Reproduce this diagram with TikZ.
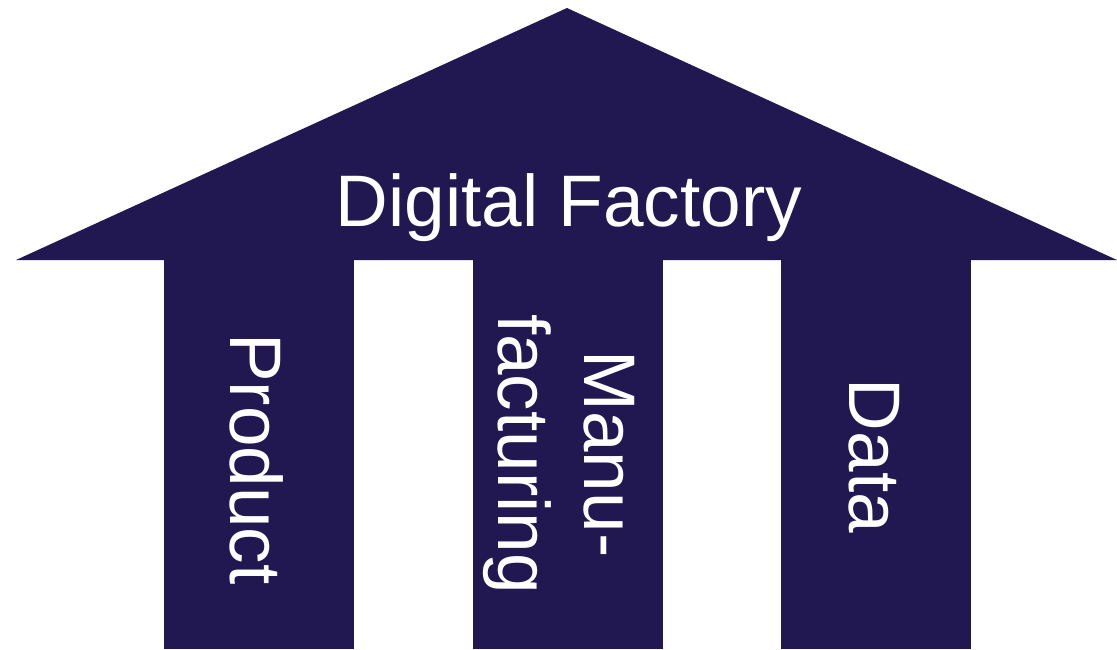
\documentclass[tikz,border=0pt]{standalone}
\usepackage{fontspec}
\setmainfont{Liberation Sans}
\usetikzlibrary{positioning}
\definecolor{factoryblue}{RGB}{33,24,82}

\tikzset{
  housepart/.style={fill=factoryblue},
  titletext/.style={text=white,font=\fontsize{73}{86}\selectfont,inner sep=0pt},
  pillartext/.style={text=white,font=\fontsize{73}{86}\selectfont,rotate=-90,align=center,inner sep=0pt}
}

\begin{document}
\begin{tikzpicture}[x=1pt,y=-1pt]
  \useasboundingbox (0,0) rectangle (1117,649);

  % roof
  \fill[housepart] (16,260) -- (567,8) -- (1117,260) -- cycle;

  % pillars
  \fill[housepart] (164,259) rectangle (354,649);
  \fill[housepart] (473,259) rectangle (663,649);
  \fill[housepart] (781,259) rectangle (971,649);

  \node[titletext,anchor=base] (title) at (569,226) {Digital Factory};

  \node[pillartext] (product) at (257,459) {Product};
  \node[pillartext] (manufacturing) at (559,454) {Manu-\\facturing};
  \node[pillartext] (data) at (874,456) {Data};
\end{tikzpicture}
\end{document}
